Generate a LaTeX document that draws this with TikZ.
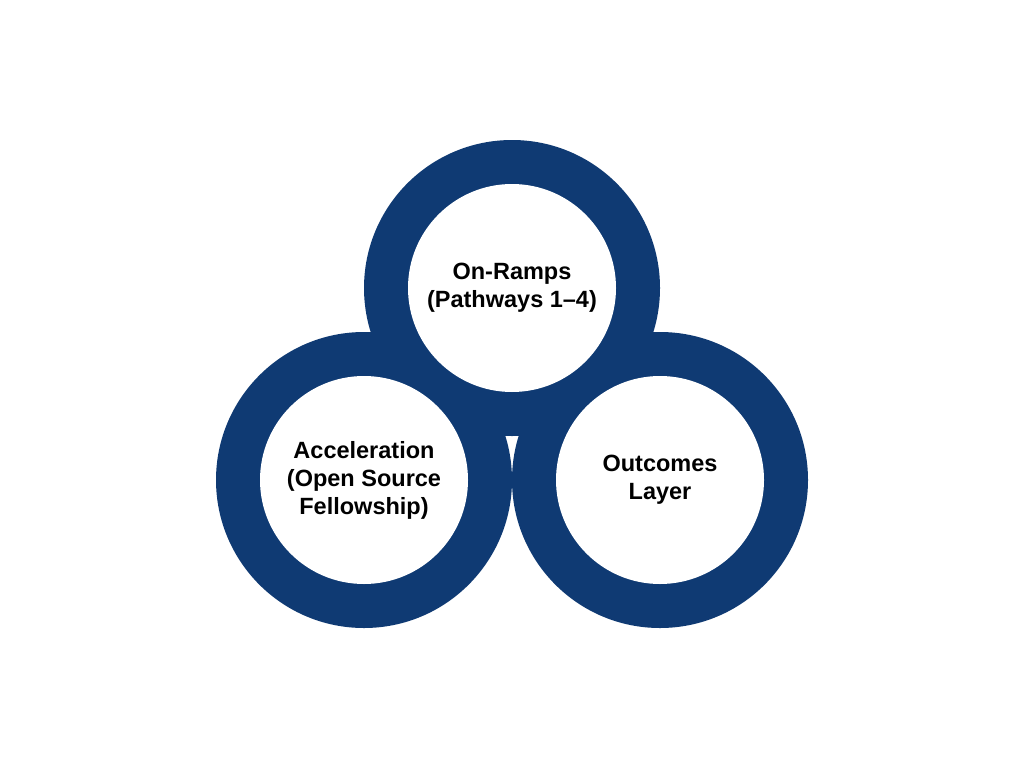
\documentclass[tikz,border=0pt]{standalone}
\usepackage{fontspec}
\setmainfont{Liberation Sans}
\definecolor{ringblue}{HTML}{0F3A73}
\begin{document}
\begin{tikzpicture}[x=1pt,y=-1pt,
  outerdisc/.style={circle,fill=ringblue,minimum size=296pt,inner sep=0pt,draw=none},
  innerdisc/.style={circle,fill=white,minimum size=208pt,inner sep=0pt,draw=none,
    align=center,font=\fontsize{23.5}{28}\selectfont\bfseries,text=black}]
\useasboundingbox[fill=white] (0,0) rectangle (1024,768);
\node[outerdisc] (otop) at (512,288) {};
\node[outerdisc] (oleft) at (364,480) {};
\node[outerdisc] (oright) at (660,480) {};
\node[innerdisc] (top) at (512,288) {On-Ramps\\(Pathways 1–4)};
\node[innerdisc] (left) at (364,480) {Acceleration\\(Open Source\\Fellowship)};
\node[innerdisc] (right) at (660,480) {Outcomes\\Layer};
\end{tikzpicture}
\end{document}
